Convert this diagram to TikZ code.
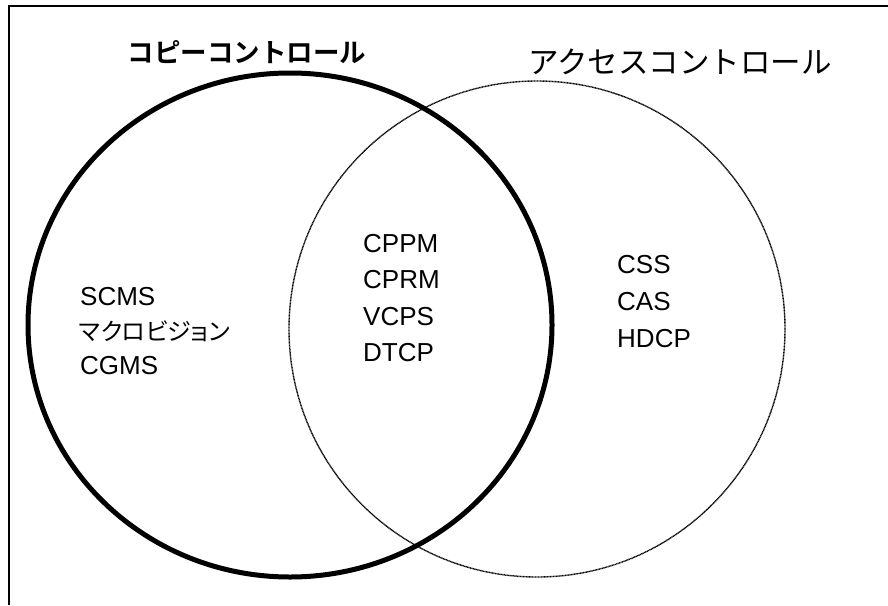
\documentclass[tikz,border=0pt]{standalone}
\usepackage{fontspec}
\usetikzlibrary{shapes.geometric}
\setmainfont{Liberation Sans}
\newfontfamily\jpfont{Noto Sans CJK JP}
\newfontfamily\jppfont[RawFeature=+palt]{Noto Sans CJK JP}
\newfontfamily\jpbold{Noto Sans CJK JP Bold}
\begin{document}
\begin{tikzpicture}[x=1pt,y=-1pt,
  lbl/.style={anchor=west,inner sep=0pt,font=\fontsize{26}{26}\selectfont},
  frameline/.style={line width=1.6pt},
  copyset/.style={line width=5pt},
  accessset/.style={line width=1.4pt,dash pattern=on 1pt off 0.5pt}]
\useasboundingbox (0,0) rectangle (888,605);
\coordinate (fb) at (9,605);
\coordinate (ftl) at (9,6);
\coordinate (fr) at (888,6);
\draw[frameline] (fb) -- (ftl) -- (fr);
% sets
\node[copyset,draw,ellipse,minimum width=524pt,minimum height=504pt,inner sep=0pt] (copy) at (290,325) {};
\node[accessset,draw,circle,minimum size=496pt,inner sep=0pt] (access) at (537,329) {};
\node[inner sep=0pt] (copytitle) at (247,52) {\jpbold\fontsize{26.5}{26.5}\selectfont コピーコントロール};
\node[inner sep=0pt] (accesstitle) at (680,62) {\jpfont\fontsize{30.5}{30.5}\selectfont アクセスコントロール};
% left
\node[lbl] (scms) at (80,297) {SCMS};
\node[lbl] (macro) at (79,331) {\jppfont\fontsize{24}{24}\selectfont マクロビジョン};
\node[lbl] (cgms) at (80,366) {CGMS};
% middle
\node[lbl] (cppm) at (363,244) {CPPM};
\node[lbl] (cprm) at (363,280) {CPRM};
\node[lbl] (vcps) at (363,317) {VCPS};
\node[lbl] (dtcp) at (363,353) {DTCP};
% right
\node[lbl] (css) at (617,265) {CSS};
\node[lbl] (cas) at (617,302) {CAS};
\node[lbl] (hdcp) at (617,339) {HDCP};
\end{tikzpicture}
\end{document}
